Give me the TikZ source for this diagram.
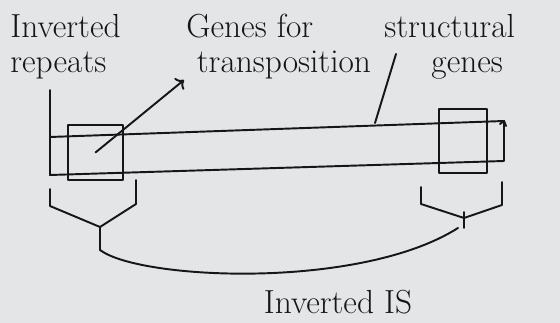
\documentclass[tikz,border=0pt]{standalone}
\usetikzlibrary{positioning,arrows.meta}

\definecolor{paper}{RGB}{228,229,231}
\definecolor{ink}{RGB}{22,22,24}

\tikzset{
	lbl/.style={font=\fontsize{19}{20}\selectfont, text=ink, inner sep=0pt, align=left},
	pen/.style={draw=ink, line width=1.1pt, line join=round, line cap=round},
}

\begin{document}
\begin{tikzpicture}[x=0.02cm, y=-0.02cm]
	\useasboundingbox[fill=paper] (0,0) rectangle (560,323);

	% labels
	\node (ir) [lbl, anchor=north west] at (10,14) {Inverted\\repeats};
	\node (gt) [lbl, anchor=north west] at (186,14) {Genes for\\\hspace{6pt}transposition};
	\node (sg) [lbl, anchor=north west, align=center] at (384,14) {structural\\\hspace{20pt}genes};
	\node (iis) [lbl] at (338,302) {Inverted IS};

	% the element: long bar with a repeat at each end
	\draw[pen] (50,175) -- (50,137) -- (504,121) -- (504,161) -- cycle;
	\draw[pen] (500,124) -- (504,121) -- (506,126);
	\node (lrep) [pen, minimum width=1.1cm, minimum height=1.1cm] at (95.5,152.5) {};
	\node (rrep) [pen, minimum width=0.96cm, minimum height=1.28cm] at (463,141) {};

	% pointers from the labels
	\coordinate (irtip) at (50,90);
	\coordinate (gttip) at (184,80);
	\coordinate (sgtip) at (396,54);
	\coordinate (bartop) at (375,123);
	\draw[pen] (irtip) -- (50,137);
	\draw[pen, ->] (lrep.center) -- (gttip);
	\draw[pen] (bartop) -- (sgtip);

	% braces under the repeats
	\coordinate (lbr) at (100,250);
	\coordinate (rbr) at (458,228);
	\draw[pen] (50,189) -- (50,206) -- (100,227) -- (136,204) -- (136,180);
	\draw[pen] (100,227) -- (lbr);
	\draw[pen] (421,187) -- (421,204) -- (464,218) -- (502,205) -- (502,182);
	\draw[pen] (464,212) -- (464,228);
	\draw[pen] (lbr) .. controls (140,280) and (360,290) .. (rbr);
\end{tikzpicture}
\end{document}
